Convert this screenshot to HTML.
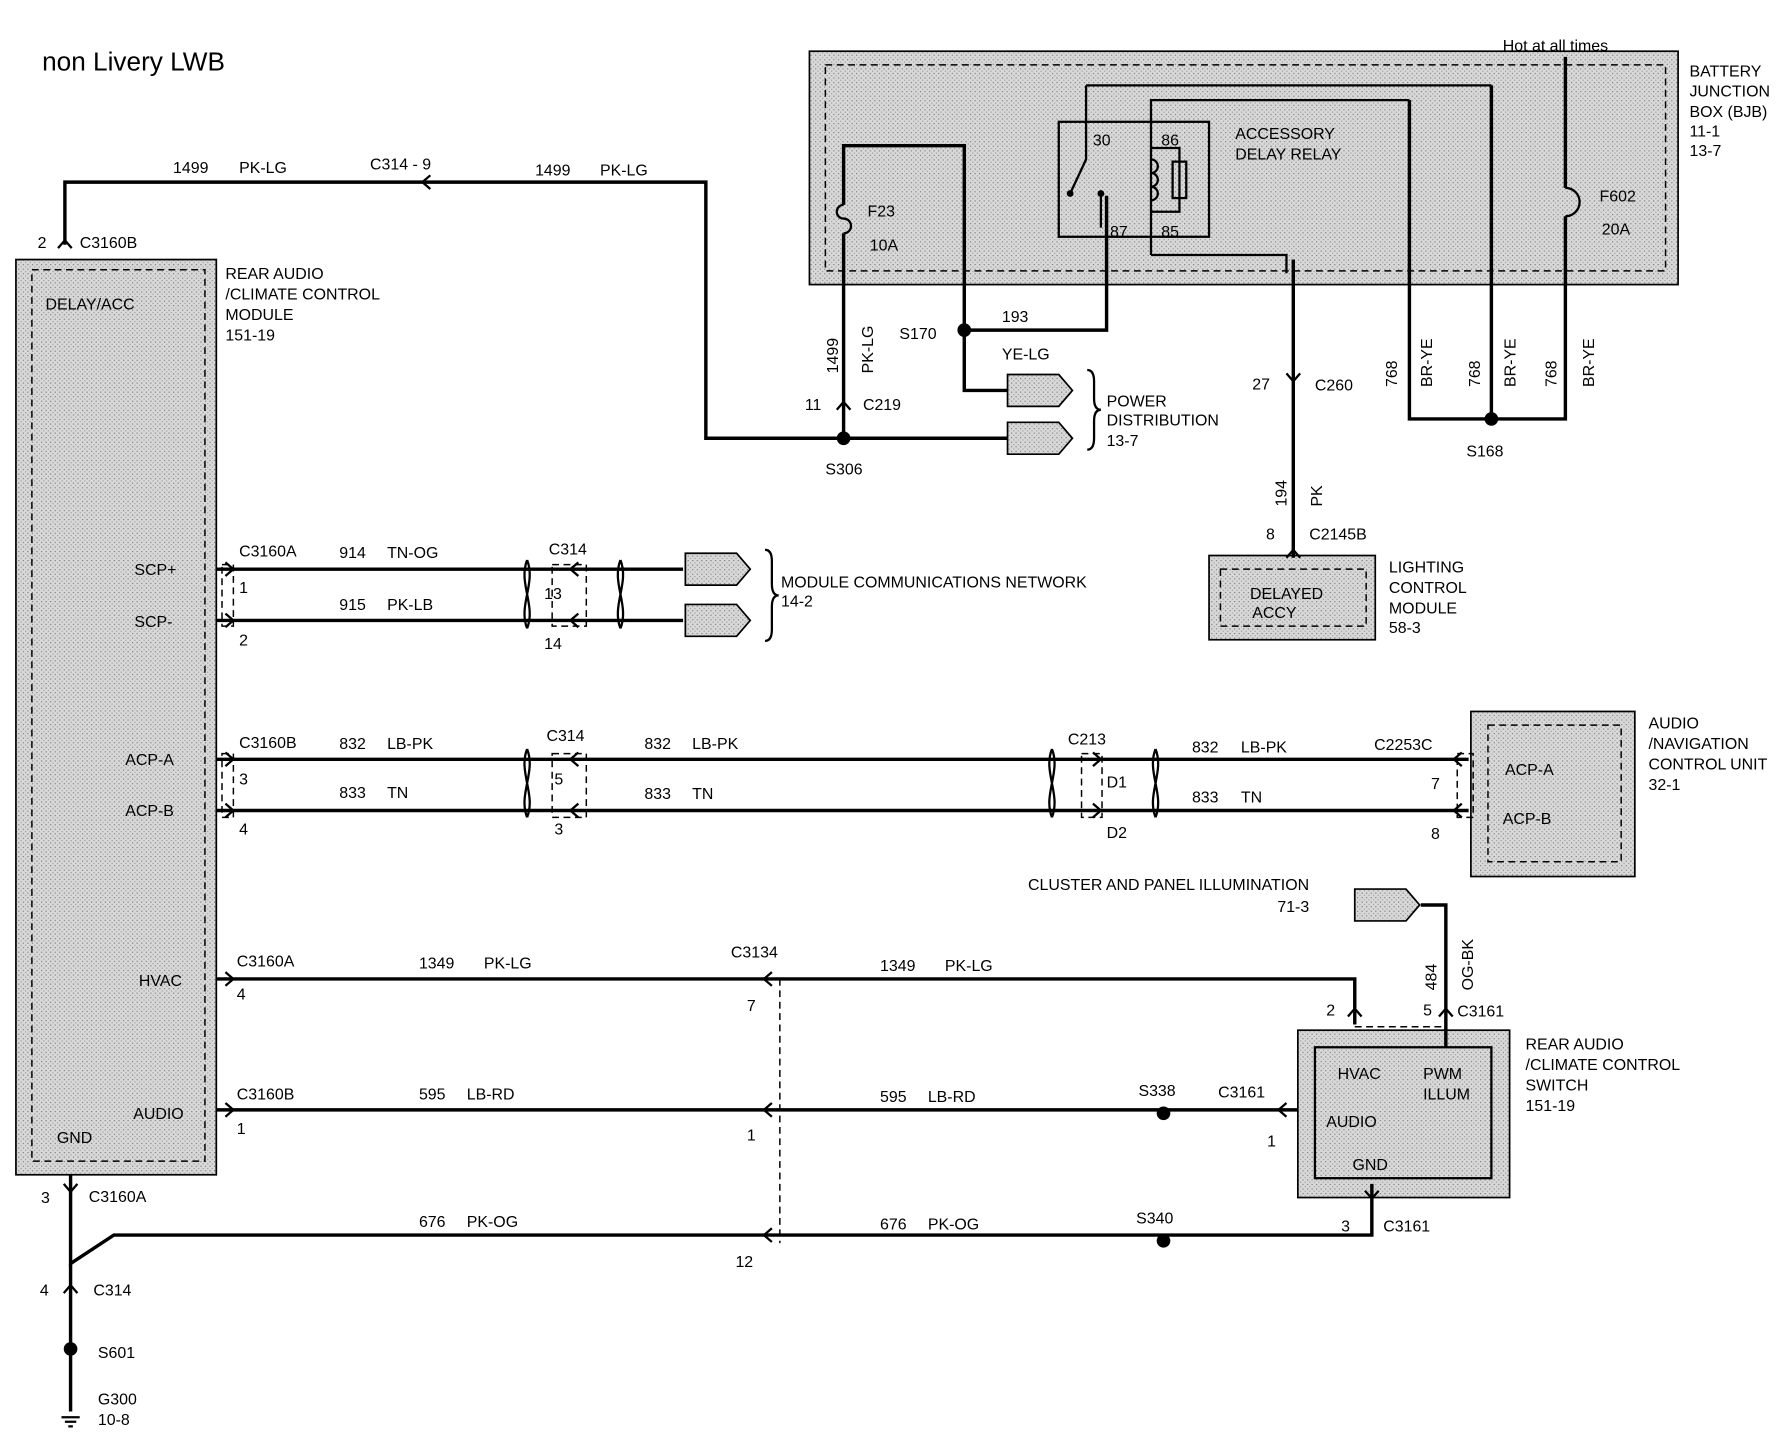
<!DOCTYPE html>
<html><head><meta charset="utf-8"><style>
html,body{margin:0;padding:0;background:#fff}
svg{display:block}
text{font-family:"Liberation Sans",sans-serif;font-size:14px;fill:#000}
</style></head><body>
<svg width="1776" height="1440" viewBox="0 0 1560 1265" preserveAspectRatio="none" xmlns="http://www.w3.org/2000/svg">
<defs>
<pattern id="g" width="4" height="4" patternUnits="userSpaceOnUse"><rect width="4" height="4" fill="#d8d8d8"/><rect width="1" height="1" fill="#777"/><rect x="2" y="2" width="1" height="1" fill="#999"/></pattern>
</defs>
<g fill="url(#g)" stroke="#000" stroke-width="1.5">
<rect x="14" y="228" width="176" height="804"/>
<rect x="711" y="45" width="763" height="205"/>
<rect x="1062" y="488" width="146" height="74"/>
<rect x="1292" y="625" width="144" height="145"/>
<rect x="1140" y="905" width="186" height="147"/>
</g>
<g fill="none" stroke="#000" stroke-width="1.3" stroke-dasharray="6,4">
<rect x="28" y="237" width="152" height="783"/>
<rect x="725" y="57" width="738" height="181"/>
<rect x="1072" y="500" width="128" height="50"/>
<rect x="1307" y="637" width="117" height="120"/>
<rect x="485" y="496" width="30" height="54"/>
<rect x="195" y="496" width="10" height="54"/>
<rect x="195" y="662" width="10" height="56"/>
<rect x="485" y="662" width="30" height="56"/>
<rect x="950" y="662" width="18" height="56"/>
<rect x="1280" y="662" width="14" height="56"/>
<line x1="685" y1="860" x2="685" y2="1092"/>
<line x1="1190" y1="902" x2="1270" y2="902"/>
</g>
<rect x="1155" y="920" width="155" height="115" fill="none" stroke="#000" stroke-width="2"/>
<g fill="none" stroke="#000" stroke-width="3">
<polyline points="57,215 57,160 620,160 620,385 885,385"/>
<polyline points="741,385 741,205"/><polyline points="741,180 741,128 847,128 847,343 885,343"/>
<polyline points="847,290 972,290 972,172"/>
<polyline points="1136,228 1136,490"/>
<polyline points="1238,88 1238,368 1375,368 1375,190"/><polyline points="1375,165 1375,50"/>
<polyline points="1310,75 1310,368"/>
<line x1="190" y1="500" x2="600" y2="500"/><line x1="190" y1="545" x2="600" y2="545"/>
<line x1="190" y1="667" x2="1290" y2="667"/><line x1="190" y1="712" x2="1290" y2="712"/>
<polyline points="190,860 1190,860 1190,900"/>
<line x1="190" y1="975" x2="1140" y2="975"/>
<polyline points="62,1032 62,1110 100,1085 1205,1085 1205,1040"/>
<line x1="62" y1="1110" x2="62" y2="1240"/>
<polyline points="1248,795 1270,795 1270,920"/>
</g>
<g fill="none" stroke="#000" stroke-width="2">
<path d="M741,180 a6,6 0 0 0 0,12 a6,6 0 0 1 0,13"/>
<path d="M1375,165 a12,12 0 0 1 0,25"/>
<rect x="930" y="107" width="132" height="101"/>
<polyline points="954,75 954,140 940,170"/><line x1="954" y1="75" x2="1310" y2="75"/>
<polyline points="967,170 967,200"/>
<polyline points="1011,224 1011,88 1238,88"/>
<polyline points="1011,224 1130,224 1130,240"/>
<path d="M1011,140 a6,6 0 0 1 0,12 a6,6 0 0 1 0,12 a6,6 0 0 1 0,12"/>
<polyline points="1011,130 1036,130 1036,186 1011,186"/>
<rect x="1030" y="142" width="12" height="32"/>
<path d="M955,325 q6,0 6,10 v15 q0,10 6,10 q-6,0 -6,10 v15 q0,10 -6,10"/>
<path d="M672,483 q6,0 6,10 v20 q0,10 6,10 q-6,0 -6,10 v20 q0,10 -6,10"/>
<path d="M463,492 c-8,20 8,40 0,60 M463,492 c8,20 -8,40 0,60"/>
<path d="M545,492 c-8,20 8,40 0,60 M545,492 c8,20 -8,40 0,60"/>
<path d="M463,658 c-8,20 8,40 0,60 M463,658 c8,20 -8,40 0,60"/>
<path d="M924,658 c-8,20 8,40 0,60 M924,658 c8,20 -8,40 0,60"/>
<path d="M1015,658 c-8,20 8,40 0,60 M1015,658 c8,20 -8,40 0,60"/>
<path d="M198,494 l7,6 l-7,6 M198,539 l7,6 l-7,6 M198,661 l7,6 l-7,6 M198,706 l7,6 l-7,6 M198,854 l7,6 l-7,6 M198,969 l7,6 l-7,6"/>
<path d="M508,494 l-7,6 l7,6 M508,539 l-7,6 l7,6 M508,661 l-7,6 l7,6 M508,706 l-7,6 l7,6"/>
<path d="M960,661 l7,6 l-7,6 M960,706 l7,6 l-7,6"/>
<path d="M1284,661 l-7,6 l7,6 M1284,706 l-7,6 l7,6 M1130,969 l-7,6 l7,6 M678,854 l-7,6 l7,6 M678,969 l-7,6 l7,6 M678,1079 l-7,6 l7,6 M378,154 l-7,6 l7,6"/>
<path d="M51,218 l6,-7 l6,7 M735,360 l6,-7 l6,7 M1130,490 l6,-7 l6,7 M56,1136 l6,-7 l6,7 M1184,893 l6,-7 l6,7 M1264,893 l6,-7 l6,7"/>
<path d="M1130,328 l6,7 l6,-7 M56,1040 l6,7 l6,-7 M1199,1046 l6,7 l6,-7"/>
<path d="M54,1245 h16 M57,1249 h10 M60,1253 h4"/>
</g>
<g fill="#000"><circle cx="741" cy="385" r="6"/><circle cx="847" cy="290" r="6"/><circle cx="1310" cy="368" r="6"/><circle cx="1022" cy="978" r="6"/><circle cx="1022" cy="1090" r="6"/><circle cx="62" cy="1185" r="6"/><circle cx="940" cy="170" r="3"/><circle cx="967" cy="170" r="3"/></g>
<g fill="url(#g)" stroke="#000" stroke-width="1.5">
<path d="M885,329 h45 l12,14 l-12,14 h-45z"/><path d="M885,371 h45 l12,14 l-12,14 h-45z"/>
<path d="M602,486 h45 l12,14 l-12,14 h-45z"/><path d="M602,531 h45 l12,14 l-12,14 h-45z"/>
<path d="M1190,781 h45 l12,14 l-12,14 h-45z"/>
</g>
<text x="37" y="62" style="font-size:23px">non Livery LWB</text>
<text x="152" y="152">1499</text><text x="210" y="152">PK-LG</text><text x="325" y="149">C314  -  9</text><text x="470" y="154">1499</text><text x="527" y="154">PK-LG</text>
<text x="33" y="218">2</text><text x="70" y="218">C3160B</text>
<text x="40" y="272">DELAY/ACC</text>
<text x="198" y="245">REAR AUDIO</text><text x="198" y="263">/CLIMATE CONTROL</text><text x="198" y="281">MODULE</text><text x="198" y="299">151-19</text>
<text x="1320" y="45">Hot at all times</text>
<text x="1484" y="67">BATTERY</text><text x="1484" y="85">JUNCTION</text><text x="1484" y="103">BOX (BJB)</text><text x="1484" y="120">11-1</text><text x="1484" y="137">13-7</text>
<text x="1085" y="122">ACCESSORY</text><text x="1085" y="140">DELAY RELAY</text>
<text x="960" y="128">30</text><text x="1020" y="128">86</text><text x="975" y="208">87</text><text x="1020" y="208">85</text>
<text x="762" y="190">F23</text><text x="764" y="220">10A</text><text x="1405" y="177">F602</text><text x="1407" y="206">20A</text>
<text x="880" y="283">193</text><text x="880" y="316">YE-LG</text><text x="790" y="298">S170</text>
<text x="972" y="357">POWER</text><text x="972" y="374">DISTRIBUTION</text><text x="972" y="392">13-7</text>
<text x="707" y="360">11</text><text x="758" y="360">C219</text><text x="725" y="417">S306</text>
<text transform="translate(736,328) rotate(-90)">1499</text><text transform="translate(767,328) rotate(-90)">PK-LG</text>
<text x="1100" y="342">27</text><text x="1155" y="343">C260</text>
<text transform="translate(1130,445) rotate(-90)">194</text><text transform="translate(1161,445) rotate(-90)">PK</text>
<text x="1112" y="474">8</text><text x="1150" y="474">C2145B</text>
<text x="1098" y="526">DELAYED</text><text x="1100" y="543">ACCY</text>
<text x="1220" y="503">LIGHTING</text><text x="1220" y="521">CONTROL</text><text x="1220" y="539">MODULE</text><text x="1220" y="556">58-3</text>
<text transform="translate(1227,340) rotate(-90)">768</text><text transform="translate(1258,340) rotate(-90)">BR-YE</text>
<text transform="translate(1300,340) rotate(-90)">768</text><text transform="translate(1331,340) rotate(-90)">BR-YE</text>
<text transform="translate(1367,340) rotate(-90)">768</text><text transform="translate(1400,340) rotate(-90)">BR-YE</text>
<text x="1288" y="401">S168</text>
<text x="118" y="505">SCP+</text><text x="118" y="551">SCP-</text>
<text x="210" y="489">C3160A</text><text x="298" y="490">914</text><text x="340" y="490">TN-OG</text><text x="482" y="487">C314</text>
<text x="210" y="521">1</text><text x="478" y="526">13</text><text x="298" y="536">915</text><text x="340" y="536">PK-LB</text><text x="210" y="567">2</text><text x="478" y="570">14</text>
<text x="686" y="516">MODULE COMMUNICATIONS NETWORK</text><text x="686" y="533">14-2</text>
<text x="110" y="672">ACP-A</text><text x="110" y="717">ACP-B</text>
<text x="210" y="657">C3160B</text><text x="298" y="658">832</text><text x="340" y="658">LB-PK</text><text x="480" y="651">C314</text><text x="566" y="658">832</text><text x="608" y="658">LB-PK</text>
<text x="938" y="654">C213</text><text x="1047" y="661">832</text><text x="1090" y="661">LB-PK</text><text x="1207" y="659">C2253C</text>
<text x="210" y="689">3</text><text x="487" y="689">5</text><text x="972" y="692">D1</text><text x="1257" y="693">7</text>
<text x="298" y="701">833</text><text x="340" y="701">TN</text><text x="566" y="702">833</text><text x="608" y="702">TN</text><text x="1047" y="705">833</text><text x="1090" y="705">TN</text>
<text x="210" y="733">4</text><text x="487" y="733">3</text><text x="972" y="736">D2</text><text x="1257" y="737">8</text>
<text x="1322" y="681">ACP-A</text><text x="1320" y="724">ACP-B</text>
<text x="1448" y="640">AUDIO</text><text x="1448" y="658">/NAVIGATION</text><text x="1448" y="676">CONTROL UNIT</text><text x="1448" y="694">32-1</text>
<text x="903" y="782">CLUSTER AND PANEL ILLUMINATION</text><text x="1122" y="801">71-3</text>
<text transform="translate(1262,870) rotate(-90)">484</text><text transform="translate(1294,870) rotate(-90)">OG-BK</text>
<text x="122" y="866">HVAC</text><text x="117" y="983">AUDIO</text><text x="50" y="1004">GND</text>
<text x="208" y="849">C3160A</text><text x="368" y="851">1349</text><text x="425" y="851">PK-LG</text><text x="642" y="841">C3134</text><text x="773" y="853">1349</text><text x="830" y="853">PK-LG</text>
<text x="208" y="878">4</text><text x="656" y="888">7</text><text x="1165" y="892">2</text><text x="1250" y="892">5</text><text x="1280" y="893">C3161</text>
<text x="208" y="966">C3160B</text><text x="368" y="966">595</text><text x="410" y="966">LB-RD</text><text x="773" y="968">595</text><text x="815" y="968">LB-RD</text><text x="1000" y="963">S338</text><text x="1070" y="964">C3161</text>
<text x="208" y="996">1</text><text x="656" y="1002">1</text><text x="1113" y="1007">1</text>
<text x="1175" y="948">HVAC</text><text x="1250" y="948">PWM</text><text x="1250" y="966">ILLUM</text><text x="1165" y="990">AUDIO</text><text x="1188" y="1028">GND</text>
<text x="1340" y="922">REAR AUDIO</text><text x="1340" y="940">/CLIMATE CONTROL</text><text x="1340" y="958">SWITCH</text><text x="1340" y="976">151-19</text>
<text x="36" y="1057">3</text><text x="78" y="1056">C3160A</text>
<text x="368" y="1078">676</text><text x="410" y="1078">PK-OG</text><text x="773" y="1080">676</text><text x="815" y="1080">PK-OG</text><text x="998" y="1075">S340</text>
<text x="1178" y="1082">3</text><text x="1215" y="1082">C3161</text><text x="646" y="1113">12</text>
<text x="35" y="1138">4</text><text x="82" y="1138">C314</text><text x="86" y="1193">S601</text><text x="86" y="1234">G300</text><text x="86" y="1252">10-8</text>
</svg>
</body></html>
